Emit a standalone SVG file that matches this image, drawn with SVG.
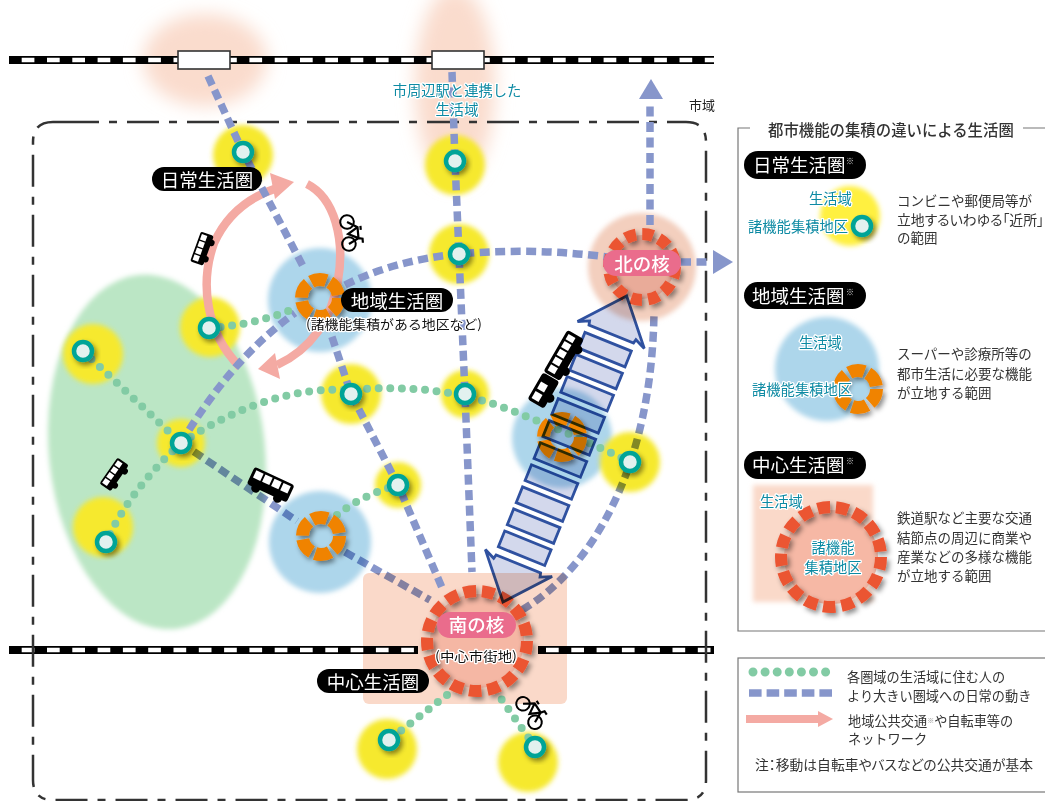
<svg xmlns="http://www.w3.org/2000/svg" width="1045" height="801" viewBox="0 0 1045 801">
<style>
text{font-family:"Noto Sans CJK JP","Noto Sans CJK SC","Liberation Sans",sans-serif;dominant-baseline:central}
.pillt{fill:#fff;font-size:18.5px}
.pill{fill:#000}
.note{fill:#333;font-size:13.5px}
.leg{fill:#333;font-size:13.2px}
.teal{fill:#0d8aa3;font-size:14.3px;paint-order:stroke;stroke:#fff;stroke-width:2.5px;stroke-linejoin:round}
.sub{fill:#111;font-size:13px;paint-order:stroke;stroke:#fff;stroke-width:2.5px;stroke-linejoin:round}
.kome{fill:#ddd;font-size:8px}
.core{fill:#fff;font-size:18.5px;font-weight:500}
.palt{font-feature-settings:"palt"}
.rail-b{fill:none;stroke:#000;stroke-width:8}
.rail-w{fill:none;stroke:#fff;stroke-width:4.4;stroke-dasharray:12.7 12.6}
.yg{fill:#f6e92f;filter:url(#b2)}
.bg{fill:#add6eb;filter:url(#b2)}
.tn{fill:#e2f1ef;stroke:#00a497;stroke-width:4.5;filter:url(#sh)}
.or{fill:none;stroke:#f08300;stroke-width:13;stroke-dasharray:15.6 3.77;filter:url(#sh)}
.blue{fill:none;stroke:#8796cb;stroke-width:7.5;stroke-dasharray:10 5.5}
.green{fill:none;stroke:#82cba4;stroke-width:8;stroke-linecap:round;stroke-dasharray:0 11.6}
.arrowfill{fill:#8796cb}
.pink{fill:none;stroke:#f4aaa3;stroke-width:8.5}
.pinkh{fill:#f4aaa3}
.red{stroke:#eb5533;stroke-width:12;filter:url(#sh)}
.frame{fill:none;stroke:#777;stroke-width:1.2}
.stripe{fill:#d3d8ec;stroke:#2f51a0;stroke-width:2.8;mix-blend-mode:multiply}
.stn{fill:#fff;stroke:#333;stroke-width:1.6}
</style>
<defs>
<filter id="b2" x="-20%" y="-20%" width="140%" height="140%"><feGaussianBlur stdDeviation="2.4"/></filter>
<filter id="b8" x="-60%" y="-60%" width="220%" height="220%"><feGaussianBlur stdDeviation="9"/></filter>
<filter id="sh" x="-50%" y="-50%" width="200%" height="200%"><feDropShadow dx="2.5" dy="3" stdDeviation="2.6" flood-color="#000" flood-opacity=".45"/></filter>
<g id="bus"><rect x="-22" y="-11" width="44" height="19" rx="3" fill="#000"/><rect x="-19" y="-8.500" width="8" height="8" fill="#fff"/><rect x="-9" y="-8.500" width="8" height="8" fill="#fff"/><rect x="1" y="-8.500" width="8" height="8" fill="#fff"/><rect x="11" y="-8.500" width="8" height="8" fill="#fff"/><circle cx="-12" cy="8" r="4.500" fill="#000"/><circle cx="12" cy="8" r="4.500" fill="#000"/></g>
<g id="bike" fill="none" stroke="#000" stroke-width="2"><circle cx="-11" cy="0" r="6.800"/><circle cx="11" cy="0" r="6.800"/><path d="M-11,0L-5,-10H6L11,0M-5,-10L1,0L6,-10M-6,-13H-2M6,-10L7,-14H11" stroke-width="2.200"/></g>
</defs>
<rect width="1045" height="801" fill="#fff"/>

<g id="backgrounds">
<ellipse cx="205" cy="60" rx="62" ry="46" fill="#fadccd" filter="url(#b8)"/>
<ellipse cx="455" cy="85" rx="40" ry="98" fill="#fadccd" filter="url(#b8)"/>
<ellipse cx="157" cy="452" rx="108" ry="178" transform="rotate(-6 157 452)" fill="#bbe6c5" filter="url(#b2)"/>
<rect x="363" y="573" width="204" height="131" rx="6" fill="#fad9c9"/>
<circle cx="642" cy="267" r="54" fill="#f3cfbe" filter="url(#b2)"/>
<circle cx="320" cy="300" r="52" class="bg"/>
<circle cx="562" cy="438" r="50" class="bg"/>
<circle cx="320" cy="542" r="51" class="bg"/>
<circle cx="243" cy="155" r="30" class="yg"/>
<circle cx="455" cy="165" r="30" class="yg"/>
<circle cx="459" cy="254" r="30" class="yg"/>
<circle cx="210" cy="327" r="30" class="yg"/>
<circle cx="93" cy="354" r="30" class="yg"/>
<circle cx="351" cy="394" r="30" class="yg"/>
<circle cx="465" cy="394" r="24" class="yg"/>
<circle cx="181" cy="443" r="24" class="yg"/>
<circle cx="398" cy="485" r="23" class="yg"/>
<circle cx="630" cy="462" r="30" class="yg"/>
<circle cx="103" cy="527" r="30" class="yg"/>
<circle cx="387" cy="749" r="30" class="yg"/>
<circle cx="528" cy="762" r="30" class="yg"/>
</g>

<g id="rails">
<path class="rail-b" d="M9,60H714"/><path class="rail-w" d="M21.700,60H714"/>
<path class="rail-b" d="M9,650H418M538,650H714"/><path class="rail-w" d="M21.700,650H418M546,650H714"/>
<rect class="stn" x="178" y="51" width="52" height="18"/>
<rect class="stn" x="432" y="51" width="52" height="18"/>
</g>

<path id="city-boundary" d="M67,122H686Q706,122 706,142V780Q706,800 686,800H53Q33,800 33,780V142Q33,122 53,122H67" fill="none" stroke="#333" stroke-width="2.500" stroke-dasharray="32 10 8 10"/>

<g id="connectors">
<g id="pink-network">
<path class="pink" d="M240,367C205,332 200,282 214,243C228,212 252,196 277,188"/>
<polygon class="pinkh" points="294,182 270,173 275,199"/>
<path class="pink" d="M307,184C335,198 345,240 338,280C332,320 310,350 277,365"/>
<polygon class="pinkh" points="258,369 275,353 280,379"/>
</g>
<g id="blue-lines">
<path class="blue" d="M208,76L243,152L305,270"/>
<path class="blue" d="M327,322L351,394L398,485L443,590"/>
<path class="blue" d="M452,72L455,161L459,254L465,394L472,572"/>
<path class="blue" d="M181,443Q232,358 295,313"/>
<path class="blue" d="M345,285Q395,260 459,254Q550,246 640,262"/>
<path class="blue" d="M650,225V104"/>
<path class="blue" d="M681,262H712"/>
<g style="mix-blend-mode:multiply">
<path class="blue" d="M181,443L297,521"/>
<path class="blue" d="M345,552L430,600"/>
<path class="blue" d="M522,610C590,570 652,470 654,312"/>
</g>
<polygon class="arrowfill" points="651,79 663,99 639,99"/>
<polygon class="arrowfill" points="733,262 713,250 713,274"/>
</g>
<g id="green-lines">
<path class="green" d="M209,328Q255,325 296,308"/>
<path class="green" d="M83,351L181,443"/>
<path class="green" d="M181,443Q130,490 106,542"/>
<path class="green" d="M181,443Q270,385 351,390Q440,382 510,410Q575,435 630,462"/>
<path class="green" d="M337,515Q362,495 398,485"/>
<path class="green" d="M447,695L389,740"/>
<path class="green" d="M495,690L535,747"/>
</g>
</g>

<g id="node-ring-west"><circle class="or" cx="320" cy="298" r="18.500"/></g>
<g id="node-ring-east"><circle class="or" cx="562" cy="437" r="18.500"/></g>
<g id="node-ring-south"><circle class="or" cx="321" cy="536" r="18.500"/></g>

<g id="nodes-small">
<circle class="tn" cx="243" cy="152" r="9"/>
<circle class="tn" cx="455" cy="161" r="9"/>
<circle class="tn" cx="459" cy="254" r="9"/>
<circle class="tn" cx="209" cy="328" r="9"/>
<circle class="tn" cx="83" cy="351" r="9"/>
<circle class="tn" cx="351" cy="394" r="9"/>
<circle class="tn" cx="465" cy="394" r="9"/>
<circle class="tn" cx="181" cy="443" r="9"/>
<circle class="tn" cx="398" cy="485" r="9"/>
<circle class="tn" cx="630" cy="462" r="9"/>
<circle class="tn" cx="106" cy="542" r="9"/>
<circle class="tn" cx="389" cy="740" r="9"/>
<circle class="tn" cx="535" cy="747" r="9"/>
</g>

<g id="north-core">
<circle cx="642" cy="267" r="32" fill="#e9ab99"/>
<circle class="red" cx="642" cy="267" r="33" fill="none" stroke-width="10" stroke-dasharray="11 6.280"/>
<rect x="603" y="250" width="78" height="26" rx="13" fill="#ea6c8c"/>
<text class="core" x="642" y="263" text-anchor="middle">北の核</text>
</g>

<g id="south-core">
<circle cx="477" cy="641" r="47" fill="#f5b7a4"/>
<circle class="red" cx="477" cy="641" r="50" fill="none" stroke-dasharray="12.500 5.980"/>
<rect x="437" y="612" width="79" height="26" rx="13" fill="#ea6c8c"/>
<text class="core" x="476.500" y="624" text-anchor="middle">南の核</text>
<text class="sub" x="476" y="655" text-anchor="middle" textLength="82" lengthAdjust="spacingAndGlyphs">(中心市街地)</text>
</g>

<g id="double-arrow" transform="translate(503,602) rotate(-68)">
<polygon class="stripe" points="0,0 42,-36 37,-25 41,-24 41,24 37,25 42,36"/>
<rect class="stripe" x="49.500" y="-25" width="17" height="50"/>
<rect class="stripe" x="73.300" y="-25" width="17" height="50"/>
<rect class="stripe" x="97.100" y="-25" width="17" height="50"/>
<rect class="stripe" x="120.900" y="-25" width="17" height="50"/>
<rect class="stripe" x="144.700" y="-25" width="17" height="50"/>
<rect class="stripe" x="168.500" y="-25" width="17" height="50"/>
<rect class="stripe" x="192.300" y="-25" width="17" height="50"/>
<rect class="stripe" x="216.100" y="-25" width="17" height="50"/>
<rect class="stripe" x="239.900" y="-25" width="17" height="50"/>
<rect class="stripe" x="263.700" y="-25" width="17" height="50"/>
<polygon class="stripe" points="330,0 288,-36 293,-25 289,-24 289,24 293,25 288,36"/>
</g>

<g id="vehicles">
<use href="#bus" transform="translate(203,249) rotate(-70) scale(.72)"/>
<use href="#bus" transform="translate(115,475) rotate(-55) scale(.72)"/>
<use href="#bus" transform="translate(270,486) rotate(25)"/>
<g transform="translate(557,370) rotate(-60)">
<rect x="-8" y="-11" width="48" height="19" rx="3" fill="#000"/>
<rect x="-40" y="-11" width="31" height="19" rx="3" fill="#000"/>
<rect x="-37" y="-8" width="8" height="8" fill="#fff"/><rect x="-26" y="-8" width="8" height="8" fill="#fff"/>
<rect x="-5" y="-8" width="7" height="8" fill="#fff"/><rect x="4" y="-8" width="7" height="8" fill="#fff"/><rect x="13" y="-8" width="7" height="8" fill="#fff"/><rect x="22" y="-8" width="7" height="8" fill="#fff"/><rect x="31" y="-8" width="6" height="8" fill="#fff"/>
<circle cx="-28" cy="8" r="4.500" fill="#000"/><circle cx="3" cy="8" r="4.500" fill="#000"/><circle cx="28" cy="8" r="4.500" fill="#000"/>
</g>
<use href="#bike" transform="translate(348,233) rotate(85)"/>
<use href="#bike" transform="translate(529,713) rotate(57)"/>
</g>

<g id="map-labels">
<rect class="pill" x="152" y="167" width="110" height="24" rx="12"/><text class="pillt" x="207" y="178.500" text-anchor="middle">日常生活圏</text>
<rect class="pill" x="341" y="288" width="112" height="24" rx="12"/><text class="pillt" x="397" y="299.500" text-anchor="middle">地域生活圏</text>
<text class="sub" x="394" y="323" text-anchor="middle" textLength="176" lengthAdjust="spacingAndGlyphs">(諸機能集積がある地区など)</text>
<rect class="pill" x="317" y="669" width="112" height="24" rx="12"/><text class="pillt" x="373" y="680.500" text-anchor="middle">中心生活圏</text>
<text class="teal" x="457" y="89" text-anchor="middle">市周辺駅と連携した</text>
<text class="teal" x="457" y="108" text-anchor="middle">生活域</text>
<text x="702" y="104" text-anchor="middle" fill="#222" font-size="13">市域</text>
</g>

<g id="panel">
<path class="frame" d="M750,128H738V631H1045M1023,128H1045"/>
<text x="768" y="129" fill="#333" font-size="15.400" font-weight="500">都市機能の集積の違いによる生活圏</text>
</g>

<g id="legend-daily">
<rect class="pill" x="744" y="151" width="122" height="28" rx="14"/><text class="pillt" x="753" y="164">日常生活圏</text><text class="kome" x="846" y="160">※</text>
<circle cx="850" cy="216" r="30" fill="#fff03f" filter="url(#b2)"/>
<circle class="tn" cx="862" cy="226" r="9"/>
<text class="teal" x="809" y="197">生活域</text>
<text class="teal" x="748" y="225">諸機能集積地区</text>
<text class="note" x="897" y="200">コンビニや郵便局等が</text>
<text class="note palt" x="897" y="219" textLength="147" lengthAdjust="spacingAndGlyphs">立地するいわゆる「近所」</text>
<text class="note" x="897" y="237">の範囲</text>
</g>

<g id="legend-local">
<rect class="pill" x="744" y="282" width="122" height="27" rx="13.500"/><text class="pillt" x="752" y="295">地域生活圏</text><text class="kome" x="846" y="291">※</text>
<circle cx="827" cy="369" r="52" class="bg"/>
<circle class="or" cx="858" cy="389" r="18.500"/>
<text class="teal" x="799" y="341">生活域</text>
<text class="teal" x="752" y="388">諸機能集積地区</text>
<text class="note" x="897" y="353">スーパーや診療所等の</text>
<text class="note" x="897" y="373">都市生活に必要な機能</text>
<text class="note" x="897" y="392">が立地する範囲</text>
</g>

<g id="legend-central">
<rect class="pill" x="744" y="451" width="122" height="28" rx="14"/><text class="pillt" x="752" y="464">中心生活圏</text><text class="kome" x="846" y="460">※</text>
<rect x="753" y="485" width="120" height="117" fill="#fad9c9" filter="url(#b2)"/>
<circle cx="831" cy="557" r="47" fill="#f6b8a5"/>
<circle class="red" cx="831" cy="557" r="50" fill="none" stroke-dasharray="12.500 5.980"/>
<text class="teal" x="760" y="500">生活域</text>
<text class="teal" x="833" y="546.500" text-anchor="middle">諸機能</text>
<text class="teal" x="833" y="566" text-anchor="middle">集積地区</text>
<text class="note" x="897" y="517">鉄道駅など主要な交通</text>
<text class="note" x="897" y="537">結節点の周辺に商業や</text>
<text class="note" x="897" y="556">産業などの多様な機能</text>
<text class="note" x="897" y="575">が立地する範囲</text>
</g>

<g id="legend-lines">
<rect class="frame" x="738" y="658" width="320" height="134"/>
<path class="green" d="M753,672H827" style="stroke-width:9;stroke-dasharray:0 12.100"/>
<path class="blue" d="M749,693H832" style="stroke-dasharray:12.600 5"/>
<path d="M746,719H820" fill="none" stroke="#f4aaa3" stroke-width="8"/>
<polygon class="pinkh" points="833,719 818,711 818,727"/>
<text class="leg" x="847" y="676">各圏域の生活域に住む人の</text>
<text class="leg" x="847" y="695">より大きい圏域への日常の動き</text>
<text class="leg" x="848" y="720">地域公共交通<tspan font-size="7" fill="#888">※</tspan>や自転車等の</text>
<text class="leg" x="848" y="738">ネットワーク</text>
<text class="leg palt" x="755" y="764" textLength="278" lengthAdjust="spacingAndGlyphs">注：移動は自転車やバスなどの公共交通が基本</text>
</g>
</svg>
